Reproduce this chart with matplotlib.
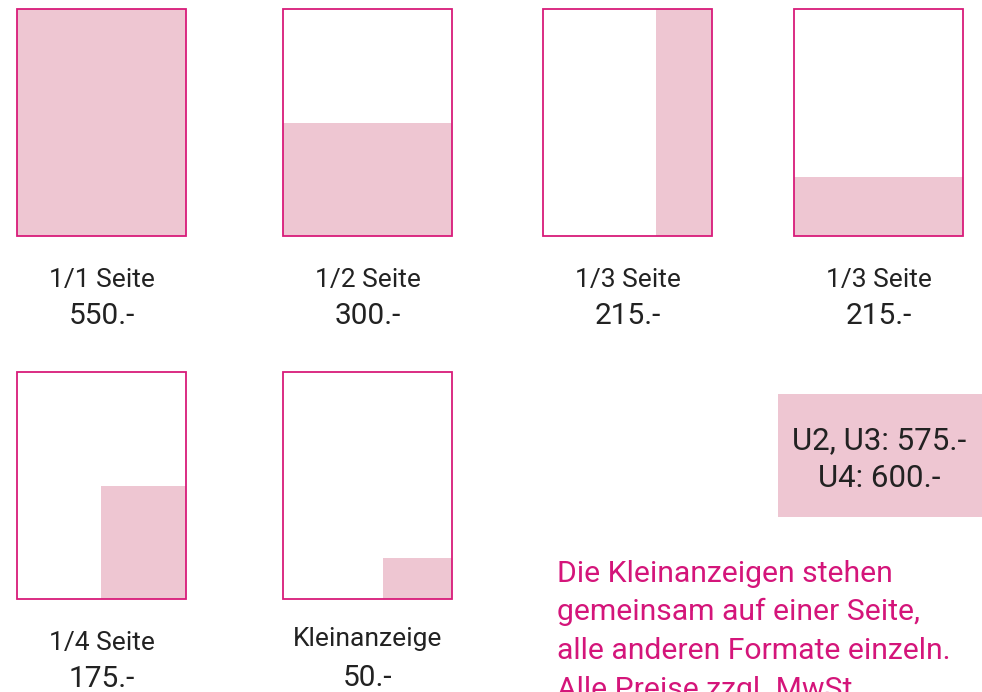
import matplotlib
matplotlib.use("Agg")
import matplotlib.pyplot as plt
from matplotlib.patches import Rectangle

# Anzeigenformate
formats = ["1/1 Seite", "1/2 Seite", "1/3 Seite", "1/3 Seite", "1/4 Seite", "Kleinanzeige"]
prices = ["550.-", "300.-", "215.-", "215.-", "175.-", "50.-"]
# Anteil der Seite (Breite, Höhe), gefüllt rechts unten
fill_w = [1.0, 1.0, 0.33, 1.0, 0.5, 0.41]
fill_h = [1.0, 0.5, 1.0, 0.26, 0.5, 0.18]
cover_text = ["U2, U3: 575.-", "U4: 600.-"]
note_lines = ["Die Kleinanzeigen stehen",
              "gemeinsam auf einer Seite,",
              "alle anderen Formate einzeln.",
              "Alle Preise zzgl. MwSt."]

FILL = "#eec6d2"
EDGE = "#d81b7a"
MAGENTA = "#d4157a"
TEXT = "#222222"

plt.rcParams["font.family"] = ["Roboto", "DejaVu Sans"]

fig = plt.figure(figsize=(9.82, 6.92), dpi=100)
ax = fig.add_axes([0, 0, 1, 1])
ax.set_xlim(0, 982)
ax.set_ylim(692, 0)
ax.axis("off")

# Seiten-Positionen (links, oben)
lefts = [17, 283, 543, 794, 17, 283]
tops = [9, 9, 9, 9, 372, 372]
W, H = 169, 227

for i, name in enumerate(formats):
    x0, y0 = lefts[i], tops[i]
    fw, fh = W * fill_w[i], H * fill_h[i]
    ax.add_patch(Rectangle((x0 + W - fw, y0 + H - fh), fw, fh,
                           facecolor=FILL, edgecolor="none"))
    ax.add_patch(Rectangle((x0, y0), W, H, facecolor="none",
                           edgecolor=EDGE, linewidth=1.3))
    cx = x0 + W / 2
    if name == "Kleinanzeige":
        ax.text(cx, y0 + H + 47, name, ha="center", va="baseline",
                fontsize=19, color=TEXT)
        ax.text(cx, y0 + H + 87, prices[i], ha="center", va="baseline",
                fontsize=21.5, color=TEXT)
    else:
        ax.text(cx, y0 + H + 51, name, ha="center", va="baseline",
                fontsize=19, color=TEXT)
        ax.text(cx, y0 + H + 88, prices[i], ha="center", va="baseline",
                fontsize=21.5, color=TEXT)

# Umschlagseiten
ax.add_patch(Rectangle((778, 394), 204, 123, facecolor=FILL, edgecolor="none"))
for j, line in enumerate(cover_text):
    ax.text(879, 449 + j * 38, line, ha="center", va="baseline",
            fontsize=22.5, color=TEXT)

for j, line in enumerate(note_lines):
    ax.text(557, 582 + j * 38.5, line, ha="left", va="baseline",
            fontsize=21.7, color=MAGENTA)

fig.savefig("out.png", dpi=100)
